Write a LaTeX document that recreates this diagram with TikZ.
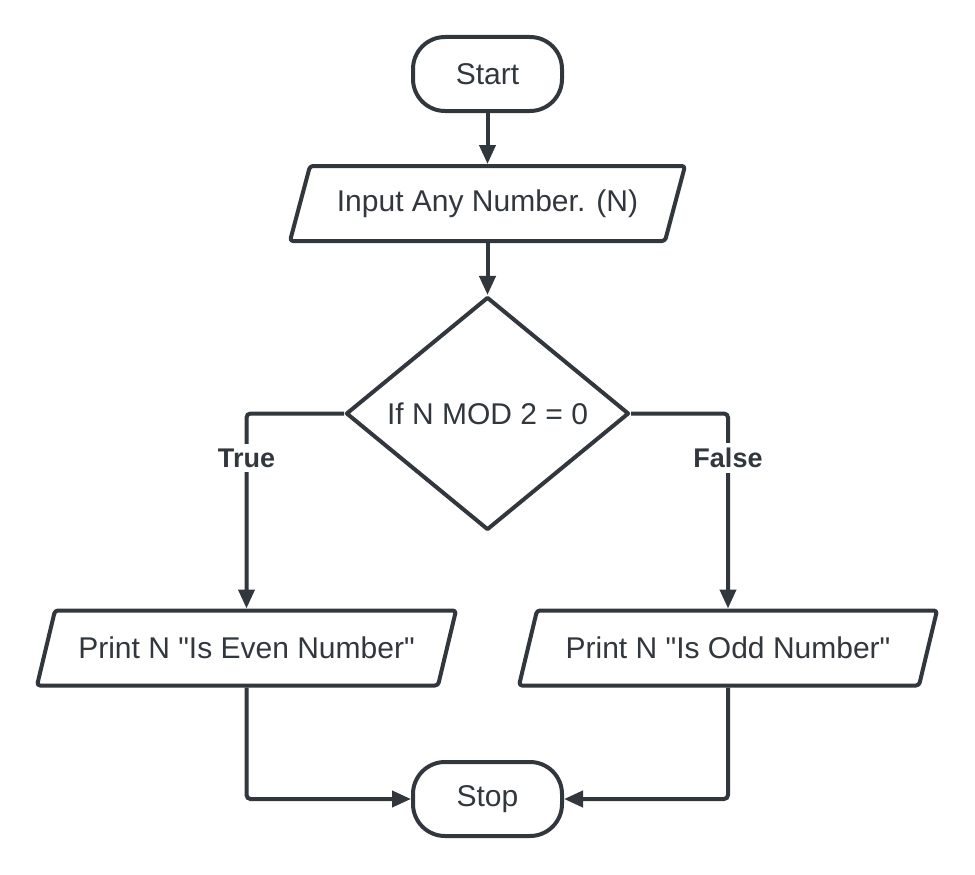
\documentclass[tikz,border=0pt]{standalone}
\usepackage{fontspec}
\setmainfont{Liberation Sans}[Ligatures=TeXOff]
\usetikzlibrary{shapes.geometric,arrows.meta,calc}
\definecolor{ink}{HTML}{31373D}

\begin{document}
\begin{tikzpicture}[x=1pt,y=-1pt,
  txt/.style={text=ink, font=\fontsize{30}{36}\selectfont},
  term/.style={txt, draw=ink, line width=4pt, rectangle, rounded corners=32pt,
    minimum width=149pt, minimum height=74pt, inner sep=0pt},
  iobox/.style={txt, rectangle, minimum height=75pt, inner sep=0pt, outer sep=2pt},
  ioedge/.style={draw=ink, line width=4pt, rounded corners=3pt, line join=round},
  decision/.style={txt, draw=ink, line width=4pt, diamond, aspect=1.21,
    minimum width=283pt, minimum height=233pt, inner sep=0pt, line join=round},
  flow/.style={draw=ink, line width=4pt, rounded corners=4pt,
    -{Triangle[length=19pt,width=16pt]}},
  branch/.style={fill=white, text=ink, font=\bfseries\fontsize{27}{32}\selectfont,
    inner sep=5pt}]

\useasboundingbox[fill=white] (0,0) rectangle (975,875);

% terminals
\node[term] (start) at (487.5,74) {Start};
\node[term] (stop)  at (487.5,799) {Stop};

% input / output boxes (outline drawn separately as parallelograms)
\node[iobox, minimum width=395pt] (in)   at (487.5,203.5) {Input Any Number. (N)};
\node[iobox, minimum width=419pt] (even) at (246.5,648) {Print N "Is Even Number"};
\node[iobox, minimum width=418pt] (odd)  at (728,648)   {Print N "Is Odd Number"};

\foreach \n/\s in {in/22, even/20, odd/20}{
  \draw[ioedge] ($(\n.north west)+(\s,2)$) -- ($(\n.north east)+(-2,2)$)
    -- ($(\n.south east)+(-\s,-2)$) -- ($(\n.south west)+(2,-2)$) -- cycle;
}

% decision
\node[decision] (dec) at (487.5,413.5) {If N MOD 2 = 0};

% connectors
\draw[flow] (start) -- (in);
\draw[flow] (in) -- (dec);
\draw[flow] (dec.west) -| (even.north);
\draw[flow] (dec.east) -| (odd.north);
\draw[flow] (even.south) |- (stop.west);
\draw[flow] (odd.south) |- (stop.east);

% branch labels
\node[branch] (tlab) at (246.5,458) {True};
\node[branch] (flab) at (728,458) {False};

\end{tikzpicture}
\end{document}
